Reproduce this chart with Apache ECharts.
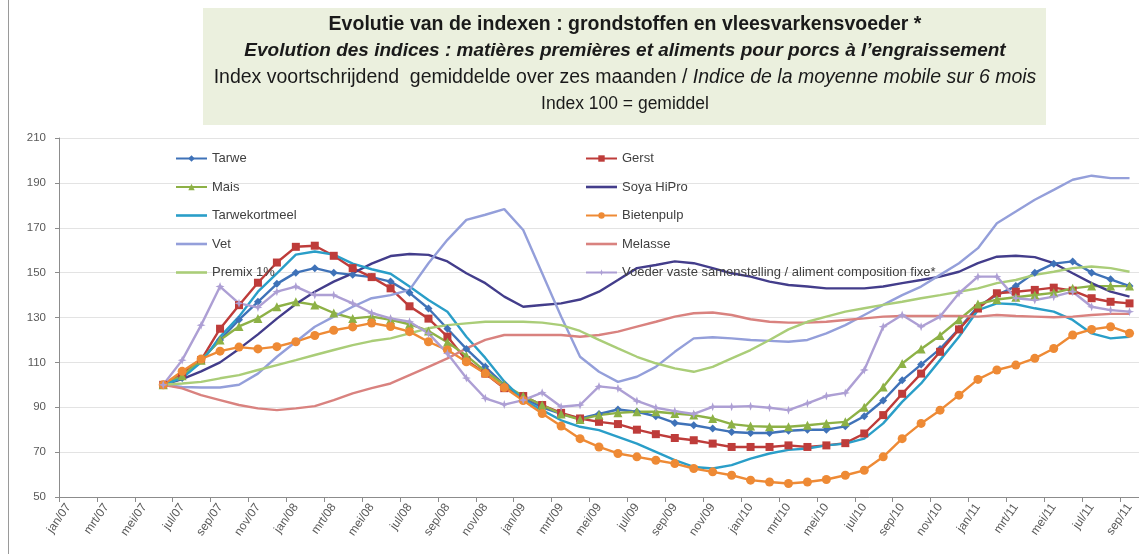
<!DOCTYPE html>
<html>
<head>
<meta charset="utf-8">
<script src="https://cdn.jsdelivr.net/npm/echarts@6/dist/echarts.min.js"></script>
<style>
html,body{margin:0;padding:0;background:#fff;}
#chart{width:1139px;height:554px;}
</style>
</head>
<body>
<div id="chart"></div>
<script>
// ---- categories (months) ----
const categories = [
 'jan/07','feb/07','mrt/07','apr/07','mei/07','jun/07','jul/07','aug/07','sep/07','okt/07','nov/07','dec/07',
 'jan/08','feb/08','mrt/08','apr/08','mei/08','jun/08','jul/08','aug/08','sep/08','okt/08','nov/08','dec/08',
 'jan/09','feb/09','mrt/09','apr/09','mei/09','jun/09','jul/09','aug/09','sep/09','okt/09','nov/09','dec/09',
 'jan/10','feb/10','mrt/10','apr/10','mei/10','jun/10','jul/10','aug/10','sep/10','okt/10','nov/10','dec/10',
 'jan/11','feb/11','mrt/11','apr/11','mei/11','jun/11','jul/11','aug/11','sep/11'
];
const yTicks = [50, 70, 90, 110, 130, 150, 170, 190, 210];
const lead = [null, null, null, null, null]; // jan/07 - mei/07 : no value

// ---- series values (jun/07 .. sep/11) ----
const tarwe = [100,103,111,120,129,137,145, 150,152,150,149,148,146,141,134,125,116,108,100, 94,90,87,85,87,89,88,86,83,82,80.5,79, 78.5,78.5,79.5,80,80,81.5,86,93,102,109,116,125, 135,140,144,150,154,155,150,147,144];
const gerst = [100,105,111,125,135.5,145.5,154.5, 161.5,162,157.5,152,148,143,135,129.5,121.5,111,105,98.5, 95,91,87.5,85,83.5,82.5,80,78,76.3,75.3,73.8,72.3, 72.3,72.3,73,72.3,73,74,78.3,86.5,96,105,114.7,124.7, 134,140.8,141.5,142.3,143.3,142,138.6,137,136.3];
const mais = [100,104,111,120,126,129.6,134.8, 137,135.6,132,129.6,130.4,129,127,124,119,113,106,100, 95,91,87,84.5,86.5,87.5,88,88,87.2,86.5,85,82.5, 81.6,81.3,81.3,82,82.8,83.5,90,99,109.5,116,122,129, 136,138,139,140,141,143,144,144,144];
const soya = [100,102.5,106,110,116,122.5,129.5, 136,141.5,146,149.7,154,157.4,158.3,157.9,155,149.7,145.3,139.3, 134.8,135.6,136.3,138,141.5,146.7,152,153.4,155,154.2,152,149.7, 148.2,146,144.5,143.8,143,143,143,143.8,145.3,146.7,148.2,150.4, 154.2,157.1,157.5,156.9,154.2,149.7,145.3,141.5,139.3];
const tarwekortmeel = [100,103,110,121.4,130.4,141.5,149.7, 158,159.4,158,154,151.5,149.5,143.8,137.8,132.6,121.4,112,101.5, 93.2,88.7,84.2,81.3,79.8,76.8,73.8,70.1,66.4,63.4,62.7,64.2, 67.1,69.4,71,71.6,73,73.8,76,82.8,92.4,100.6,111,121.4, 133.3,136.3,135.9,134.1,132.6,128.9,122.9,120.7,121.4];
const bietenpulp = [100,106,111.5,115,116.8,116,117, 119.2,122,124.3,125.8,127.5,126,123.7,119.2,115.5,110.3,105,98.8, 93,87.2,81.6,76,72.3,69.4,67.9,66.4,64.9,62.7,61.2,59.7, 57.5,56.7,56,56.7,57.8,59.7,61.9,67.9,76,82.8,88.7,95.4, 102.4,106.6,108.8,111.8,116.2,122.2,124.7,125.9,123];
const vet = [100,99,98.8,98.8,100,105,112.5, 119.2,125.9,130.4,134.8,138.6,140,142.3,154.2,164.6,173.5,175.8,178.3, 169,149.7,130.4,112.5,105.8,101.3,103.6,108,114.7,120.7,121.2,120.7, 120,119.6,119.2,120,122.9,126.6,131.1,135.6,140,143.8,149,154.2, 160.9,172,177.2,182.5,186.9,191.4,193.2,192.1,192.1];
const melasse = [100,98.4,95.4,93.2,91,89.5,88.7, 89.5,90.5,93.2,96.2,98.5,100.6,104.3,108,111.8,116.2,120,122.2, 122.2,122.2,122.2,121.4,122.2,123.7,125.9,128.1,130.4,131.9,132.2,131.1, 129.2,128.1,127.7,127.7,128.1,128.9,129.6,130.4,130.7,130.7,130.7,130.7, 130.4,131.1,130.7,130.4,130.1,130.4,131.1,131.6,131.6];
const premix = [100,100.6,101.3,102.9,104.3,106.6,108.8, 111,113.3,115.5,117.7,119.5,120.7,122.9,125.2,126.6,127.4,128.1,128.1, 128.1,127.7,126.6,124,120,116.2,112.5,109.6,107.3,105.8,108,111.8, 115.5,120,124.7,128.1,130.4,132.6,134.1,135.6,137,138.6,140,141.5, 143,145.3,146.7,149,150.4,152,152.7,152,150.4];
const voeder = [100,111,126.6,143.8,136.3,134.5,141.5, 143.8,140,140,136.3,132,129.6,128.1,122.9,114,103,94,91.2, 93.2,96.5,90.2,91,99.3,98.4,92.8,89.8,88.3,87,90.2,90.2, 90.5,89.8,88.7,91.7,95,96.4,106.6,125.9,131.1,125.9,130.4,140.8, 148.2,148.2,138.6,137.8,139.3,141.5,134.8,133.3,132.6];

const seriesNames = ['Tarwe','Gerst','Mais','Soya HiPro','Tarwekortmeel','Bietenpulp','Vet','Melasse','Premix 1%','Voeder vaste samenstelling / aliment composition fixe*'];
const seriesData = [tarwe, gerst, mais, soya, tarwekortmeel, bietenpulp, vet, melasse, premix, voeder];
const seriesColors = ['#3f72b8','#be3c3a','#8db146','#433d8b','#2a9ec8','#ee8a35','#949fda','#d9827f','#aacd78','#ad9fd4'];
const star = 'path://M0,-5 L1.3,-1.3 L5,0 L1.3,1.3 L0,5 L-1.3,1.3 L-5,0 L-1.3,-1.3 Z';
const seriesSymbols = ['diamond','rect','triangle','none','none','circle','none','none','none',star];
const seriesSymbolSizes = [8,8,9,0,0,9,0,0,0,9];

const FONT = "'Liberation Sans', Arial, sans-serif";
const lineIcon = 'path://M0,0 h31 v2.6 h-31 Z';

const series = seriesNames.map((name, i) => ({
  name: name,
  type: 'line',
  data: lead.concat(seriesData[i]),
  symbol: seriesSymbols[i],
  symbolSize: seriesSymbolSizes[i],
  showSymbol: seriesSymbols[i] !== 'none',
  lineStyle: { width: 2.4, color: seriesColors[i] },
  itemStyle: { color: seriesColors[i] },
  color: seriesColors[i],
  smooth: false,
  connectNulls: false,
  animation: false
}));

function legendItems(names) {
  return names.map(n => {
    const i = seriesNames.indexOf(n);
    return seriesSymbols[i] === 'none' ? { name: n, icon: lineIcon } : { name: n };
  });
}

const legendStyle = {
  orient: 'vertical', top: 152, padding: 0,
  itemWidth: 31, itemHeight: 8, itemGap: 15.5,
  textStyle: { fontSize: 13, color: '#404040', fontFamily: FONT }
};

const chart = echarts.init(document.getElementById('chart'));
chart.setOption({
  animation: false,
  backgroundColor: '#ffffff',
  textStyle: { fontFamily: FONT },
  grid: { left: 59, right: -5, top: 138, bottom: 57, containLabel: false },
  legend: [
    Object.assign({ left: 175, data: legendItems(['Tarwe','Mais','Tarwekortmeel','Vet','Premix 1%']) }, legendStyle),
    Object.assign({ left: 585, data: legendItems(['Gerst','Soya HiPro','Bietenpulp','Melasse','Voeder vaste samenstelling / aliment composition fixe*']) }, legendStyle)
  ],
  xAxis: {
    type: 'category',
    data: categories,
    boundaryGap: true,
    axisLine: { lineStyle: { color: '#8c8c8c', width: 1 } },
    axisTick: { show: true, interval: 1, length: 5, lineStyle: { color: '#8c8c8c' } },
    axisLabel: { interval: 1, rotate: 55, fontSize: 12, color: '#595959', margin: 8, fontFamily: FONT },
    splitLine: { show: false }
  },
  yAxis: {
    type: 'value',
    min: yTicks[0], max: yTicks[yTicks.length - 1], interval: 20,
    axisLine: { show: true, lineStyle: { color: '#8c8c8c' } },
    axisTick: { show: true, length: 4, lineStyle: { color: '#8c8c8c' } },
    axisLabel: { fontSize: 11.5, color: '#595959', margin: 13, fontFamily: FONT },
    splitLine: { lineStyle: { color: '#e3e3e3', width: 1 } }
  },
  series: series,
  graphic: [
    { type: 'line', shape: { x1: 8.5, y1: 0, x2: 8.5, y2: 554 }, style: { stroke: '#9a9a9a', lineWidth: 1 }, z: 10 },
    { type: 'rect', shape: { x: 203, y: 8, width: 843, height: 117 }, style: { fill: '#ebf0de' }, z: -1 },
    { type: 'text', x: 625, y: 25, style: { text: 'Evolutie van de indexen : grondstoffen en vleesvarkensvoeder *', font: 'bold 19.5px ' + FONT, fill: '#1a1a1a', textAlign: 'center', textVerticalAlign: 'middle' } },
    { type: 'text', x: 625, y: 51, style: { text: 'Evolution des indices : matières premières et aliments pour porcs à l\u2019engraissement', font: 'italic bold 19px ' + FONT, fill: '#1a1a1a', textAlign: 'center', textVerticalAlign: 'middle' } },
    { type: 'text', x: 625, y: 78, style: {
        text: '{n|Index voortschrijdend  gemiddelde over zes maanden / }{i|Indice de la moyenne mobile sur 6 mois}',
        rich: { n: { font: '19.5px ' + FONT, fill: '#1a1a1a' }, i: { font: 'italic 19.5px ' + FONT, fill: '#1a1a1a' } },
        textAlign: 'center', textVerticalAlign: 'middle' } },
    { type: 'text', x: 625, y: 104, style: { text: 'Index 100 = gemiddel', font: '17.5px ' + FONT, fill: '#1a1a1a', textAlign: 'center', textVerticalAlign: 'middle' } }
  ]
});
</script>
</body>
</html>
